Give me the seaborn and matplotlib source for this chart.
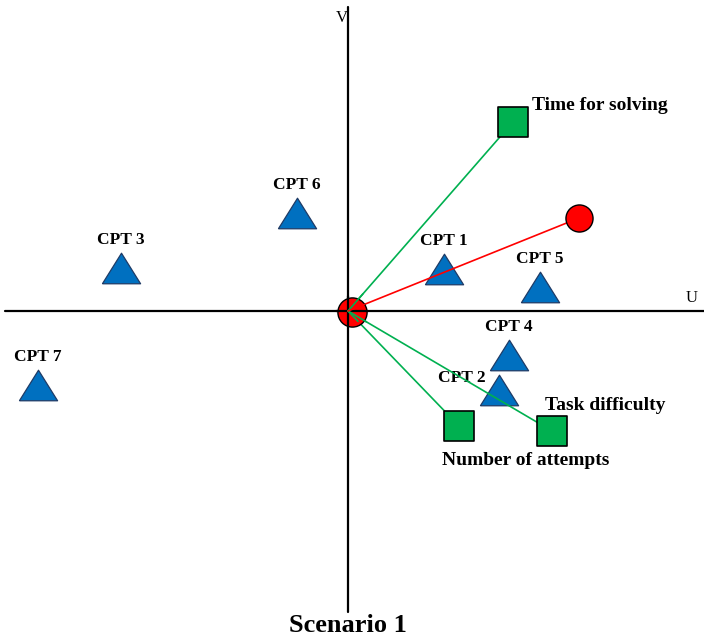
import numpy as np
import pandas as pd
import seaborn as sns
import matplotlib.pyplot as plt

# positions on the U/V map
cpt_names = ["CPT 1", "CPT 2", "CPT 3", "CPT 4", "CPT 5", "CPT 6", "CPT 7"]
cpt_u = [0.96, 1.51, -2.27, 1.61, 1.92, -0.51, -3.10]
cpt_v = [0.42, -0.79, 0.43, -0.44, 0.24, 0.98, -0.74]

var_names = ["Time for solving", "Task difficulty", "Number of attempts"]
var_u = [1.65, 2.04, 1.11]
var_v = [1.89, -1.20, -1.15]

red_u = [2.31]
red_v = [0.93]
origin_u = [0.035]
origin_v = [-0.01]

sns.set_style("white")
plt.rcParams['font.family'] = ['Liberation Serif', 'DejaVu Serif']
plt.rcParams['text.color'] = 'black'

fig = plt.figure(figsize=(7.04, 6.4), dpi=100)
ax = fig.add_axes([0, 0, 1, 1])
ax.set_xlim(-3.48, 3.56)
ax.set_ylim(-3.29, 3.11)
ax.axis("off")

# axes
ax.plot([-3.43, 3.56], [0, 0], color="black", lw=1.6, zorder=1)
ax.plot([0, 0], [3.04, -3.01], color="black", lw=1.6, zorder=1)
ax.text(-0.06, 2.93, "V", ha="center", va="center", fontsize=12, color="black")
ax.text(3.44, 0.13, "U", ha="center", va="center", fontsize=12, color="black")

# triangles
tri = [(-1, -0.8), (1, -0.8), (0, 0.8), (-1, -0.8)]
cpt = pd.DataFrame({"u": cpt_u, "v": cpt_v, "name": cpt_names})
sns.scatterplot(data=cpt, x="u", y="v", marker=tri, s=27.5**2, color="#0070C0",
                edgecolor="#1F3B66", linewidth=0.9, ax=ax, zorder=2, legend=False)
lab_off = {"CPT 2": (-27, 9)}
for n, u, v in zip(cpt_names, cpt_u, cpt_v):
    off = lab_off.get(n, (0, 20))
    ax.annotate(n, (u, v), xytext=off, textcoords="offset points", ha="center",
                va="center", fontsize=12.5, fontweight="bold", color="black")

# vectors
for u, v in zip(var_u, var_v):
    ax.plot([0, u], [0, v], color="#00B050", lw=1.2, zorder=3)
ax.plot([0, red_u[0]], [0, red_v[0]], color="#FF0000", lw=1.2, zorder=3)

sq = pd.DataFrame({"u": var_u, "v": var_v})
sns.scatterplot(data=sq, x="u", y="v", marker="s", s=22**2, color="#00B050",
                edgecolor="black", linewidth=1.2, ax=ax, zorder=4, legend=False)
var_off = [(14, 12), (-5, 18), (-12, -25)]
for n, u, v, off in zip(var_names, var_u, var_v, var_off):
    ax.annotate(n, (u, v), xytext=off, textcoords="offset points", ha="left",
                va="center", fontsize=14, fontweight="bold", color="black")

sns.scatterplot(x=red_u, y=red_v, marker="o", s=19.5**2, color="#FF0000",
                edgecolor="black", linewidth=1.0, ax=ax, zorder=4, legend=False)
sns.scatterplot(x=origin_u, y=origin_v, marker="o", s=21**2, color="#FF0000",
                edgecolor="black", linewidth=1.0, ax=ax, zorder=4, legend=False)
ax.plot([-0.12, 0.2], [0, 0], color="black", lw=1.6, zorder=5)
ax.plot([0, 0], [-0.15, 0.15], color="black", lw=1.6, zorder=5)
for u, v in zip(var_u, var_v):
    ax.plot([0, u * 0.09], [0, v * 0.09], color="#00B050", lw=1.2, zorder=6)
ax.plot([0, red_u[0] * 0.07], [0, red_v[0] * 0.07], color="#FF0000", lw=1.2, zorder=6)

ax.text(0.0, -3.15, "Scenario 1", ha="center", va="center", fontsize=19,
        fontweight="bold", color="black")

fig.savefig("out.png", dpi=100)
